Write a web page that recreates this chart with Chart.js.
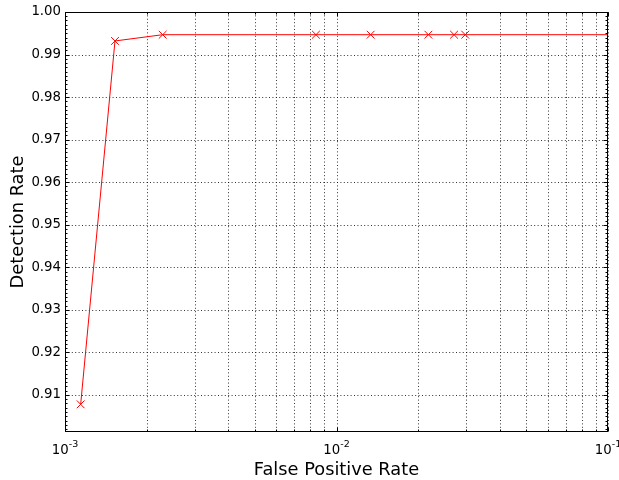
<!DOCTYPE html>
<html>
<head>
<meta charset="utf-8">
<script src="https://cdn.jsdelivr.net/npm/chart.js@4/dist/chart.umd.min.js"></script>
<style>
  html, body { margin: 0; padding: 0; background: #fff; }
  #c { display: block; }
</style>
</head>
<body>
<canvas id="c" width="619" height="480"></canvas>
<script>
// ROC operating points: false positive rate vs detection rate
const falsePositiveRate = [0.001142, 0.001528, 0.00229, 0.0084, 0.01336, 0.0218, 0.0271, 0.0298, 1.0];
const detectionRate     = [0.9078, 0.99319, 0.99466, 0.99466, 0.99466, 0.99466, 0.99466, 0.99466, 0.99466];

// Axis ranges and ticks
const xMin = 0.001, xMax = 0.1;
const yMin = 0.9013, yMax = 1.0;
const yTickValues = [0.91, 0.92, 0.93, 0.94, 0.95, 0.96, 0.97, 0.98, 0.99, 1.00];
const xMajorTicks = [0.001, 0.01, 0.1];
const xMajorExponents = ['-3', '-2', '-1'];
const xMinorTicks = [0.002, 0.003, 0.004, 0.005, 0.006, 0.007, 0.008, 0.009,
                     0.02, 0.03, 0.04, 0.05, 0.06, 0.07, 0.08, 0.09];
const xTitle = 'False Positive Rate';
const yTitle = 'Detection Rate';

const FONT = 'DejaVu Sans';

const points = falsePositiveRate.map((x, i) => ({ x, y: detectionRate[i] }));

const decorations = {
  id: 'decorations',
  beforeDatasetsDraw(chart) {
    const { ctx, chartArea: a, scales: { x, y } } = chart;
    ctx.save();
    ctx.strokeStyle = 'rgba(0,0,0,0.8)';
    ctx.lineWidth = 1;
    ctx.setLineDash([1, 2.4]);
    // vertical grid at major and minor decades
    [...xMajorTicks, ...xMinorTicks].forEach(v => {
      const px = Math.round(x.getPixelForValue(v)) + 0.5;
      ctx.beginPath(); ctx.moveTo(px, a.top); ctx.lineTo(px, a.bottom); ctx.stroke();
    });
    // horizontal grid
    yTickValues.forEach(v => {
      const py = Math.round(y.getPixelForValue(v)) + 0.5;
      ctx.beginPath(); ctx.moveTo(a.left, py); ctx.lineTo(a.right, py); ctx.stroke();
    });
    ctx.restore();
  },
  afterDraw(chart) {
    const { ctx, chartArea: a, scales: { x, y } } = chart;
    ctx.save();
    ctx.strokeStyle = '#000';
    ctx.lineWidth = 1;
    ctx.setLineDash([]);
    const L = Math.round(a.left) + 0.5, R = Math.round(a.right) - 0.5;
    const T = Math.round(a.top) + 0.5, B = Math.round(a.bottom) - 0.5;
    // frame
    ctx.strokeRect(L, T, R - L, B - T);

    // inward ticks on x (bottom and top)
    const xt = (v, len) => {
      const px = Math.round(x.getPixelForValue(v)) + 0.5;
      ctx.beginPath();
      ctx.moveTo(px, B); ctx.lineTo(px, B - len);
      ctx.moveTo(px, T); ctx.lineTo(px, T + len);
      ctx.stroke();
    };
    xMajorTicks.forEach(v => xt(v, 4));
    xMinorTicks.forEach(v => xt(v, 2));

    // inward ticks on y (left and right), minor every 0.001
    const yt = (v, len) => {
      const py = Math.round(y.getPixelForValue(v)) + 0.5;
      ctx.beginPath();
      ctx.moveTo(L, py); ctx.lineTo(L + len, py);
      ctx.moveTo(R, py); ctx.lineTo(R - len, py);
      ctx.stroke();
    };
    for (let k = 902; k <= 1000; k++) {
      const v = k / 1000;
      if (k % 10 === 0) yt(v, 4); else yt(v, 2);
    }

    // x tick labels as powers of ten
    ctx.fillStyle = '#000';
    ctx.textBaseline = 'alphabetic';
    xMajorTicks.forEach((v, i) => {
      const px = x.getPixelForValue(v);
      ctx.font = `13.3px "${FONT}"`;
      const wb = ctx.measureText('10').width;
      ctx.font = `9.5px "${FONT}"`;
      const we = ctx.measureText(xMajorExponents[i]).width;
      const start = px - (wb + we) / 2;
      ctx.textAlign = 'left';
      ctx.font = `13.3px "${FONT}"`;
      ctx.fillText('10', start, a.bottom + 21.5);
      ctx.font = `9.5px "${FONT}"`;
      ctx.fillText(xMajorExponents[i], start + wb, a.bottom + 15);
    });

    // axis titles
    ctx.font = `17.8px "${FONT}"`;
    ctx.textAlign = 'center';
    ctx.fillText(xTitle, (a.left + a.right) / 2, 475);
    ctx.save();
    ctx.translate(23, (a.top + a.bottom) / 2);
    ctx.rotate(-Math.PI / 2);
    ctx.fillText(yTitle, 0, 0);
    ctx.restore();
    ctx.restore();
  }
};

new Chart(document.getElementById('c'), {
  type: 'scatter',
  data: {
    datasets: [{
      data: points,
      showLine: true,
      borderColor: '#ff0000',
      backgroundColor: '#ff0000',
      borderWidth: 1,
      pointStyle: 'crossRot',
      pointRadius: 5.5,
      pointBorderWidth: 1,
      pointBorderColor: '#ff0000',
      tension: 0
    }]
  },
  options: {
    responsive: false,
    animation: false,
    devicePixelRatio: 1,
    layout: { padding: { top: 9, right: 11, left: 0, bottom: 0 } },
    plugins: { legend: { display: false }, tooltip: { enabled: false } },
    scales: {
      x: {
        type: 'logarithmic',
        min: xMin, max: xMax,
        grid: { display: false },
        border: { display: false },
        ticks: { display: false },
        afterBuildTicks: s => { s.ticks = xMajorTicks.map(v => ({ value: v, major: true })); },
        afterFit: s => { s.height = 48; }
      },
      y: {
        type: 'linear',
        min: yMin, max: yMax,
        grid: { display: false, drawTicks: false },
        border: { display: false },
        ticks: {
          color: '#000',
          padding: 4,
          font: { family: FONT, size: 13.3 },
          callback: v => Number(v).toFixed(2)
        },
        afterBuildTicks: s => { s.ticks = yTickValues.map(v => ({ value: v })); },
        afterFit: s => { s.width = 65; }
      }
    }
  },
  plugins: [decorations]
});
</script>
</body>
</html>
